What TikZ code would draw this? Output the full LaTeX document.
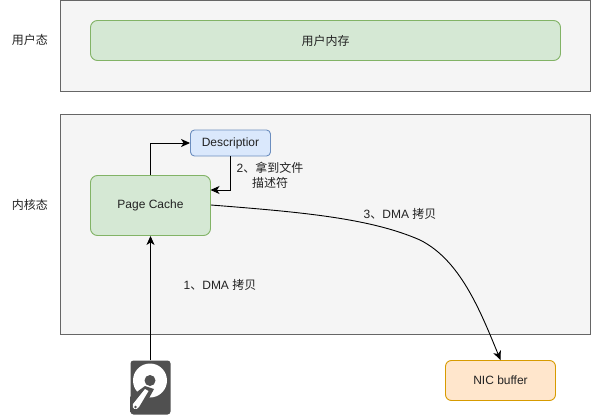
\documentclass[tikz,border=0pt]{standalone}
\usepackage{fontspec}
\setmainfont{Liberation Sans}
\newfontfamily\cjk{Noto Sans CJK SC}
\usetikzlibrary{arrows.meta}
\definecolor{panelfill}{HTML}{F5F5F5}
\definecolor{paneldraw}{HTML}{666666}
\definecolor{greenfill}{HTML}{D5E8D4}
\definecolor{greendraw}{HTML}{82B366}
\definecolor{bluefill}{HTML}{DAE8FC}
\definecolor{bluedraw}{HTML}{6C8EBF}
\definecolor{orangefill}{HTML}{FFE6CC}
\definecolor{orangedraw}{HTML}{D79B00}
\definecolor{diskdark}{HTML}{505050}
\definecolor{txt}{HTML}{222222}
\tikzset{
  panel/.style={draw=paneldraw,fill=panelfill,line width=0.9pt,minimum width=530pt,inner sep=0pt,anchor=north west},
  box/.style={rounded corners=#1,line width=0.9pt,inner sep=0pt,text=txt},
  greenbox/.style={box=7pt,draw=greendraw,fill=greenfill},
  bluebox/.style={box=4pt,draw=bluedraw,fill=bluefill},
  orangebox/.style={box=6pt,draw=orangedraw,fill=orangefill},
  lbl/.style={text=txt,inner sep=0pt,align=center},
  conn/.style={draw=black,line width=0.9pt,-{Stealth[length=9pt,width=8pt,inset=2.5pt]}},
}
\begin{document}
\begin{tikzpicture}[x=1pt,y=-1pt,font=\fontsize{12}{15}\selectfont]
\useasboundingbox (0,0) rectangle (592,415);
\node[panel,minimum height=90pt] (userpanel) at (60,0.5) {};
\node[panel,minimum height=220pt] (kernelpanel) at (60,114) {};
\node[greenbox,minimum width=470pt,minimum height=40pt] (usermem) at (325.5,40.5) {\cjk 用户内存};
\node[greenbox,minimum width=120pt,minimum height=60pt] (cache) at (150.5,205.5) {Page Cache};
\node[bluebox,minimum width=80pt,minimum height=26pt] (desc) at (230.5,143) {Descriptior};
\node[orangebox,minimum width=110pt,minimum height=40pt] (nic) at (500.5,380.5) {NIC buffer};
\node[lbl] (userlbl) at (30,40) {\cjk 用户态};
\node[lbl] (kernellbl) at (30,205) {\cjk 内核态};
\node[lbl] (step2) at (270,175.5) {2{\cjk 、拿到文件}\\{\cjk 描述符}};
\node[lbl] (step3) at (400,214) {3{\cjk 、}DMA {\cjk 拷贝}};
\node[lbl] (step1) at (220,284.5) {1{\cjk 、}DMA {\cjk 拷贝}};
% hard disk icon
\node[fill=diskdark,rounded corners=3pt,minimum width=40pt,minimum height=54pt,inner sep=0pt] (disk) at (150.5,387.5) {};
\fill[white] (150,380.5) circle (17pt);
\fill[diskdark] (150,380.5) circle (5.5pt);
\fill[diskdark] (130,397) -- (145,386) -- (154,389) -- (148,400) -- (140,412) -- (130,412) -- cycle;
\fill[white] (145,389) -- (148.5,391) -- (139,407) .. controls (136.5,411) and (131,409) .. (133,404) -- cycle;
\fill[diskdark] (135.5,407) circle (1.4pt);
% connectors
\draw[conn] (disk.north) -- (cache.south);
\draw[conn] (cache.north) |- (desc.west);
\draw[conn] (desc.south) |- (210.5,190);
\draw[conn] (cache.east |- 0,205) .. controls (300,212) and (370,218) .. (420,240) .. controls (460,260) and (480,310) .. (nic.north);
\end{tikzpicture}
\end{document}
